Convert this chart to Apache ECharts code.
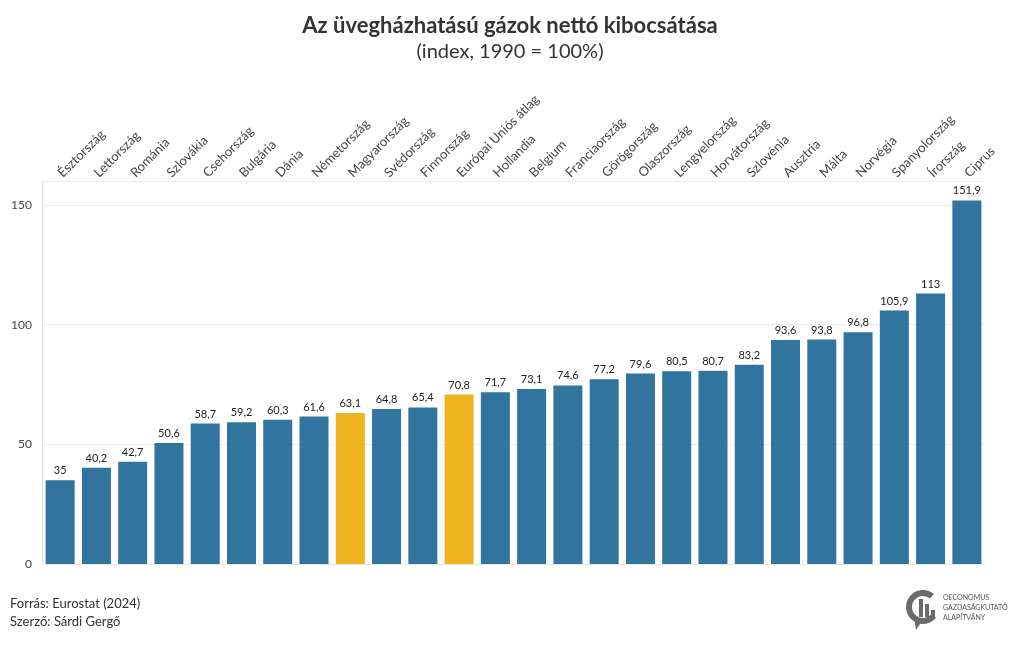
<!DOCTYPE html>
<html>
<head>
<meta charset="utf-8">
<script src="https://cdn.jsdelivr.net/npm/echarts@6/dist/echarts.min.js"></script>
<style>html,body{margin:0;padding:0;background:#fff;}#c{width:1020px;height:650px;}</style>
</head>
<body>
<div id="c"></div>
<script>
const categories = ['Észtország','Lettország','Románia','Szlovákia','Csehország','Bulgária','Dánia','Németország','Magyarország','Svédország','Finnország','Európai Uniós átlag','Hollandia','Belgium','Franciaország','Görögország','Olaszország','Lengyelország','Horvátország','Szlovénia','Ausztria','Málta','Norvégia','Spanyolország','Írország','Ciprus'];
const values = [35,40.2,42.7,50.6,58.7,59.2,60.3,61.6,63.1,64.8,65.4,70.8,71.7,73.1,74.6,77.2,79.6,80.5,80.7,83.2,93.6,93.8,96.8,105.9,113,151.9];
const highlighted = ['Magyarország','Európai Uniós átlag'];
const yTicks = [0,50,100,150];

const FONT = 'Lato';
const BLUE = '#31759e';
const GOLD = '#eeb31f';

const chart = echarts.init(document.getElementById('c'), null, {renderer:'canvas'});
const option = {
  backgroundColor:'#ffffff',
  animation:false,
  title:{
    text:'Az üvegházhatású gázok nettó kibocsátása',
    subtext:'(index, 1990 = 100%)',
    left:'center', top:10, itemGap:5,
    textStyle:{fontFamily:FONT, fontSize:22, fontWeight:'bold', color:'#333'},
    subtextStyle:{fontFamily:FONT, fontSize:20, color:'#333'}
  },
  grid:{left:42, right:35, top:181, bottom:86, containLabel:false},
  xAxis:{
    type:'category', position:'top', data:categories,
    axisLine:{show:true, lineStyle:{color:'#e6e6e6'}},
    axisTick:{show:true, alignWithLabel:true, length:4, lineStyle:{color:'#dcdcdc'}},
    axisLabel:{rotate:45, margin:6, interval:0, fontFamily:FONT, fontSize:13, color:'#444'},
    splitLine:{show:false}
  },
  yAxis:{
    type:'value', min:0, max:160, interval:50,
    axisLine:{show:true, lineStyle:{color:'#e6e6e6'}},
    axisTick:{show:false},
    axisLabel:{showMaxLabel:false, fontFamily:FONT, fontSize:12, color:'#444', margin:10,
      formatter:v => yTicks.includes(v) ? String(v) : ''},
    splitLine:{lineStyle:{color:'#ececec'}}
  },
  series:[{
    type:'bar', barCategoryGap:'20%',
    data:values.map((v,i)=>({value:v, itemStyle:{color: highlighted.includes(categories[i]) ? GOLD : BLUE}})),
    label:{show:true, position:'top', distance:4, fontFamily:FONT, fontSize:11, color:'#222',
      formatter:p => String(p.value).replace('.', ',')}
  }],
  graphic:[
    {type:'text', left:10, top:597, style:{text:'Forrás: Eurostat (2024)', font:'13px '+FONT, fill:'#333'}},
    {type:'text', left:10, top:615, style:{text:'Szerző: Sárdi Gergő', font:'13px '+FONT, fill:'#333'}},
    {type:'group', left:906, top:590, children:[
      {type:'arc', shape:{cx:17, cy:22, r:14, startAngle:-Math.PI*0.28, endAngle:Math.PI*0.22, clockwise:false}, style:{stroke:'#6b6b6b', lineWidth:6, fill:null}},
      {type:'polygon', shape:{points:[[8,32],[16,36],[10,45]]}, style:{fill:'#6b6b6b'}},
      {type:'rect', shape:{x:13, y:14, width:4, height:18}, style:{fill:'#6b6b6b'}},
      {type:'rect', shape:{x:19, y:19, width:4, height:13}, style:{fill:'#6b6b6b'}},
      {type:'rect', shape:{x:25, y:25, width:4, height:7}, style:{fill:'#6b6b6b'}},
      {type:'text', x:37, y:9, style:{text:'OECONOMUS', font:'7px '+FONT, fill:'#555'}},
      {type:'text', x:37, y:19, style:{text:'GAZDASÁGKUTATÓ', font:'7px '+FONT, fill:'#555'}},
      {type:'text', x:37, y:29, style:{text:'ALAPÍTVÁNY', font:'7px '+FONT, fill:'#555'}}
    ]}
  ]
};
chart.setOption(option);
</script>
</body>
</html>
